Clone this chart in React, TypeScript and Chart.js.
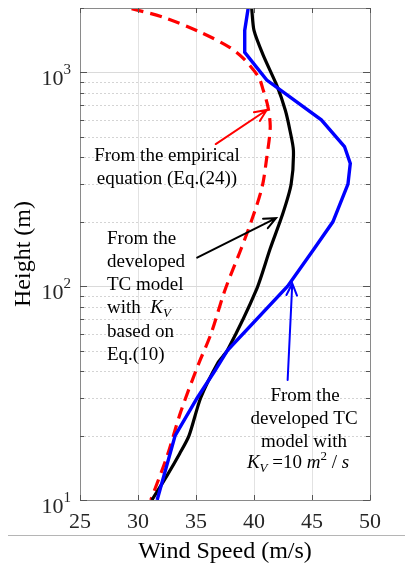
import React, { useEffect, useRef } from "react";
import { Chart, registerables } from "chart.js";

Chart.register(...registerables);

// Wind speed (m/s) against height (m) for the three profiles.
const heightsEmpirical = [10, 16, 26, 43, 60, 96, 150, 211, 291, 400, 555, 690, 824, 950, 1160, 1310, 1540, 1810, 2000];
const speedEmpirical = [31.1, 32.5, 33.7, 35.2, 36.3, 37.5, 38.9, 39.9, 40.7, 41.1, 41.4, 41.2, 40.8, 40.4, 39.1, 37.9, 35.4, 32.2, 29.2];

const heightsKvEq10 = [10, 13, 16.5, 20, 30, 44, 50, 96, 150, 220, 300, 430, 535, 665, 860, 1200, 1570, 2000];
const speedKvEq10 = [31.2, 32.5, 33.6, 34.4, 35.4, 36.9, 37.7, 40.2, 41.4, 42.5, 43.2, 43.4, 43.1, 42.7, 42.0, 40.8, 40.0, 39.8];

const heightsKv10 = [10, 20, 30, 40, 50, 100, 150, 200, 300, 375, 450, 600, 920, 1240, 1570, 2000];
const speedKv10 = [31.65, 33.2, 35.1, 36.6, 37.7, 42.9, 45.2, 46.8, 48.1, 48.3, 47.8, 45.8, 41.1, 39.2, 39.2, 39.5];

// Axis ranges and ticks
const xMin = 25;
const xMax = 50;
const xTicks = [25, 30, 35, 40, 45, 50];
const yMin = 10;
const yMax = 2000;
const yDecades = [10, 100, 1000];
const yExponents = ["1", "2", "3"];

const FONT = '"Liberation Serif", "Times New Roman", serif';

type Seg = { t: string; it?: boolean; sub?: boolean; sup?: boolean };

function drawRich(ctx: CanvasRenderingContext2D, segs: Seg[], x: number, y: number, size: number, align: "left" | "center") {
  const fontFor = (s: Seg) => `${s.it ? "italic " : ""}${s.sub || s.sup ? Math.round(size * 0.68) : size}px ${FONT}`;
  let w = 0;
  for (const s of segs) {
    ctx.font = fontFor(s);
    w += ctx.measureText(s.t).width;
  }
  let cx = align === "center" ? x - w / 2 : x;
  ctx.textAlign = "left";
  ctx.textBaseline = "alphabetic";
  for (const s of segs) {
    ctx.font = fontFor(s);
    const dy = s.sub ? size * 0.22 : s.sup ? -size * 0.4 : 0;
    ctx.fillText(s.t, cx, y + dy);
    cx += ctx.measureText(s.t).width;
  }
}

function arrow(ctx: CanvasRenderingContext2D, x1: number, y1: number, x2: number, y2: number, color: string) {
  const ang = Math.atan2(y2 - y1, x2 - x1);
  const head = 13;
  const spread = 0.42;
  ctx.save();
  ctx.strokeStyle = color;
  ctx.lineWidth = 2;
  ctx.lineCap = "round";
  ctx.beginPath();
  ctx.moveTo(x1, y1);
  ctx.lineTo(x2, y2);
  ctx.moveTo(x2 - head * Math.cos(ang - spread), y2 - head * Math.sin(ang - spread));
  ctx.lineTo(x2, y2);
  ctx.lineTo(x2 - head * Math.cos(ang + spread), y2 - head * Math.sin(ang + spread));
  ctx.stroke();
  ctx.restore();
}

// Annotation arrows in data units: [speed, height] tail -> tip
const arrowEmpirical = [[36.7, 462], [41.1, 667]];
const arrowKvEq10 = [[35.1, 136], [41.9, 208]];
const arrowKv10 = [[42.9, 36.4], [43.3, 103]];

const framePlugin = {
  id: "frame",
  beforeDatasetsDraw(chart: any) {
    const { ctx, chartArea: a, scales } = chart;
    const xs = scales.x;
    const ys = scales.y;
    ctx.save();
    // vertical grid
    ctx.strokeStyle = "#e2e2e2";
    ctx.lineWidth = 1;
    for (const v of xTicks) {
      if (v === xMin || v === xMax) continue;
      const px = Math.round(xs.getPixelForValue(v)) + 0.5;
      ctx.beginPath();
      ctx.moveTo(px, a.top);
      ctx.lineTo(px, a.bottom);
      ctx.stroke();
    }
    // horizontal grid: decades solid, sub-decades dotted
    for (const d of yDecades) {
      for (let m = 1; m <= 9; m++) {
        const h = d * m;
        if (h <= yMin || h >= yMax) continue;
        const py = Math.round(ys.getPixelForValue(h)) + 0.5;
        ctx.strokeStyle = m === 1 ? "#dadada" : "#d4d4d4";
        ctx.setLineDash(m === 1 ? [] : [2, 2]);
        ctx.beginPath();
        ctx.moveTo(a.left, py);
        ctx.lineTo(a.right, py);
        ctx.stroke();
      }
    }
    ctx.restore();
  },
  afterDatasetsDraw(chart: any) {
    const { ctx, chartArea: a, scales, width } = chart;
    const xs = scales.x;
    const ys = scales.y;
    ctx.save();
    // axes box
    ctx.strokeStyle = "#8a8a8a";
    ctx.lineWidth = 1;
    ctx.strokeRect(Math.round(a.left) + 0.5, Math.round(a.top) + 0.5, Math.round(a.right - a.left), Math.round(a.bottom - a.top));
    // tick marks
    ctx.strokeStyle = "#555";
    for (const v of xTicks) {
      const px = Math.round(xs.getPixelForValue(v)) + 0.5;
      ctx.beginPath();
      ctx.moveTo(px, a.bottom);
      ctx.lineTo(px, a.bottom - 5);
      ctx.moveTo(px, a.top);
      ctx.lineTo(px, a.top + 5);
      ctx.stroke();
    }
    for (const d of yDecades) {
      for (let m = 1; m <= 9; m++) {
        const h = d * m;
        if (h < yMin || h > yMax) continue;
        const py = Math.round(ys.getPixelForValue(h)) + 0.5;
        const len = m === 1 ? 7 : 4;
        ctx.beginPath();
        ctx.moveTo(a.left, py);
        ctx.lineTo(a.left + len, py);
        ctx.moveTo(a.right, py);
        ctx.lineTo(a.right - len, py);
        ctx.stroke();
      }
    }

    ctx.fillStyle = "#262626";
    // x tick labels
    ctx.font = `22px ${FONT}`;
    ctx.textAlign = "center";
    ctx.textBaseline = "alphabetic";
    for (const v of xTicks) {
      ctx.fillText(String(v), xs.getPixelForValue(v), a.bottom + 28);
    }
    // y tick labels as 10^n
    yDecades.forEach((d, i) => {
      const py = ys.getPixelForValue(d);
      ctx.font = `15px ${FONT}`;
      ctx.textAlign = "right";
      const ew = ctx.measureText(yExponents[i]).width;
      const right = a.left - 9;
      ctx.fillText(yExponents[i], right, py + 2);
      ctx.font = `22px ${FONT}`;
      ctx.fillText("10", right - ew, py + 13);
    });

    // axis titles
    ctx.fillStyle = "#000";
    ctx.font = `24px ${FONT}`;
    ctx.textAlign = "center";
    ctx.fillText("Wind Speed (m/s)", (a.left + a.right) / 2, a.bottom + 58);
    ctx.save();
    ctx.translate(30, (a.top + a.bottom) / 2);
    ctx.rotate(-Math.PI / 2);
    ctx.fillText("Height (m)", 0, 0);
    ctx.restore();

    // separator rule under the tick labels
    ctx.strokeStyle = "#b5b5b5";
    ctx.beginPath();
    ctx.moveTo(8, a.bottom + 35.5);
    ctx.lineTo(width, a.bottom + 35.5);
    ctx.stroke();

    // annotations
    const P = (p: number[]) => [xs.getPixelForValue(p[0]), ys.getPixelForValue(p[1])];
    const size = 19;
    ctx.fillStyle = "#000";
    drawRich(ctx, [{ t: "From the empirical" }], 167, 161, size, "center");
    drawRich(ctx, [{ t: "equation (Eq.(24))" }], 167, 184, size, "center");
    {
      const [t, h] = [P(arrowEmpirical[0]), P(arrowEmpirical[1])];
      arrow(ctx, t[0], t[1], h[0], h[1], "#ff0000");
    }

    const bx = 107;
    const blines: Seg[][] = [
      [{ t: "From the" }],
      [{ t: "developed" }],
      [{ t: "TC model" }],
      [{ t: "with  " }, { t: "K", it: true }, { t: "V", it: true, sub: true }],
      [{ t: "based on" }],
      [{ t: "Eq.(10)" }],
    ];
    const bBase = [244, 267, 290, 313, 337, 360];
    blines.forEach((l, i) => drawRich(ctx, l, bx, bBase[i], size, "left"));
    {
      const [t, h] = [P(arrowKvEq10[0]), P(arrowKvEq10[1])];
      arrow(ctx, t[0], t[1], h[0], h[1], "#000000");
    }

    drawRich(ctx, [{ t: "From the" }], 305, 401, size, "center");
    drawRich(ctx, [{ t: "developed TC" }], 304, 424, size, "center");
    drawRich(ctx, [{ t: "model with" }], 304, 447, size, "center");
    drawRich(
      ctx,
      [
        { t: "K", it: true },
        { t: "V", it: true, sub: true },
        { t: " =10 " },
        { t: "m", it: true },
        { t: "2", sup: true },
        { t: " / " },
        { t: "s", it: true },
      ],
      298,
      468,
      size,
      "center"
    );
    {
      const [t, h] = [P(arrowKv10[0]), P(arrowKv10[1])];
      arrow(ctx, t[0], t[1], h[0], h[1], "#0000ff");
    }
    ctx.restore();
  },
};

const pts = (hs: number[], vs: number[]) => hs.map((h, i) => ({ x: vs[i], y: h }));

export default function App() {
  const ref = useRef<HTMLCanvasElement | null>(null);
  useEffect(() => {
    if (!ref.current) return;
    const chart = new Chart(ref.current, {
      type: "scatter",
      data: {
        datasets: [
          {
            label: "TC model, Kv = 10 m²/s",
            data: pts(heightsKv10, speedKv10),
            showLine: true,
            borderColor: "#0000ff",
            borderWidth: 3.4,
            pointRadius: 0,
            tension: 0,
          },
          {
            label: "TC model, Kv from Eq.(10)",
            data: pts(heightsKvEq10, speedKvEq10),
            showLine: true,
            borderColor: "#000000",
            borderWidth: 3.2,
            pointRadius: 0,
            tension: 0.25,
          },
          {
            label: "Empirical equation (Eq.(24))",
            data: pts(heightsEmpirical, speedEmpirical),
            showLine: true,
            borderColor: "#ff0000",
            borderWidth: 3.2,
            borderDash: [12, 7],
            borderDashOffset: 9,
            pointRadius: 0,
            tension: 0.3,
          },
        ],
      },
      options: {
        animation: false,
        responsive: false,
        maintainAspectRatio: false,
        devicePixelRatio: 1,
        layout: { padding: { left: 80, right: 35, top: 8, bottom: 65 } },
        scales: {
          x: { type: "linear", min: xMin, max: xMax, display: false },
          y: { type: "logarithmic", min: yMin, max: yMax, display: false },
        },
        plugins: { legend: { display: false }, tooltip: { enabled: false } },
      },
      plugins: [framePlugin],
    });
    return () => chart.destroy();
  }, []);
  return (
    <div style={{ position: "absolute", left: 0, top: 0, width: 405, height: 565, background: "#fff" }}>
      <canvas ref={ref} width={405} height={565} style={{ width: 405, height: 565, display: "block" }} />
    </div>
  );
}
